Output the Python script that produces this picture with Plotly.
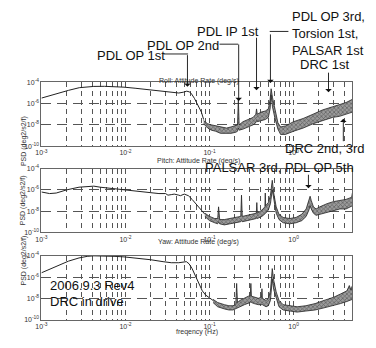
import numpy as np
import plotly.graph_objects as go

# ---------------- data (PSD given as log10 values) ----------------
roll_smooth_f = [0.001, 0.0013, 0.00163, 0.0021, 0.00282, 0.0042, 0.0056, 0.0075, 0.0096, 0.013,
                 0.0166, 0.022, 0.0286, 0.036, 0.043, 0.049, 0.0535, 0.058, 0.0612, 0.066, 0.0738, 0.08, 0.085]
roll_smooth_log = [-5.48, -5.2, -5.0, -4.75, -4.5, -4.38, -4.37, -4.4, -4.45, -4.55,
                   -4.65, -4.78, -4.9, -4.98, -5.0, -4.92, -4.83, -4.9, -5.1, -5.5, -6.2, -6.8, -7.5]
roll_band_f = [0.085, 0.095, 0.105, 0.118, 0.135, 0.159, 0.18, 0.205, 0.215, 0.22, 0.225, 0.25, 0.29,
               0.33, 0.355, 0.362, 0.37, 0.41, 0.46, 0.5, 0.525, 0.54, 0.56, 0.6, 0.65, 0.7, 0.8,
               1.0, 1.3, 1.7, 2.2, 2.9, 3.5, 4.2, 5.0]
roll_band_hi = [-7.6, -7.9, -8.0, -8.1, -8.2, -8.3, -8.2, -8.1, -8.0, -5.6, -8.0, -7.7, -7.5,
                -7.3, -7.0, -6.5, -7.0, -6.8, -6.7, -6.5, -5.6, -4.6, -5.4, -6.6, -7.8, -8.2, -8.1,
                -7.7, -7.4, -7.0, -6.6, -6.3, -6.1, -5.9, -5.6]
roll_band_lo = [-7.9, -8.3, -8.5, -8.6, -8.8, -8.8, -8.8, -8.7, -8.6, -8.3, -8.5, -8.4, -8.2,
                -8.0, -7.8, -7.6, -7.7, -7.6, -7.5, -7.3, -6.5, -5.2, -6.3, -7.4, -8.4, -8.9, -8.9,
                -8.6, -8.3, -7.9, -7.6, -7.3, -7.2, -7.0, -6.8]

pitch_smooth_f = [0.001, 0.00125, 0.0015, 0.002, 0.0028, 0.0035, 0.0042, 0.005, 0.0065, 0.0089, 0.012,
                  0.016, 0.02, 0.025, 0.03, 0.032, 0.035, 0.038, 0.043, 0.045, 0.05, 0.056, 0.062,
                  0.07, 0.078, 0.088]
pitch_smooth_log = [-6.2, -6.35, -6.3, -6.0, -5.75, -5.7, -5.65, -5.75, -5.85, -6.0, -6.1,
                    -6.2, -6.3, -6.35, -6.35, -6.5, -6.45, -6.4, -6.5, -6.55, -6.4, -6.55, -6.9,
                    -7.4, -7.9, -8.3]
pitch_band_f = [0.088, 0.1, 0.115, 0.125, 0.128, 0.132, 0.15, 0.17, 0.2, 0.235, 0.24, 0.245, 0.28,
                0.32, 0.36, 0.365, 0.37, 0.42, 0.455, 0.46, 0.465, 0.5, 0.53, 0.557, 0.58, 0.62,
                0.67, 0.75, 0.9, 1.07, 1.25, 1.41, 1.52, 1.57, 1.62, 1.72, 1.85, 2.05, 2.5, 3.0,
                3.55, 4.2, 4.9, 5.0]
pitch_band_hi = [-8.2, -8.5, -8.7, -8.7, -7.6, -8.8, -8.8, -8.7, -8.6, -8.5, -6.5, -8.5, -8.4,
                 -8.3, -8.2, -7.2, -8.2, -7.9, -7.6, -6.3, -7.5, -7.2, -6.5, -5.1, -6.3, -7.6,
                 -8.3, -8.6, -8.7, -8.6, -8.3, -7.8, -7.0, -6.6, -7.0, -7.6, -7.8, -7.6, -7.3, -7.1,
                 -7.0, -6.9, -6.7, -6.3]
pitch_band_lo = [-8.5, -8.9, -9.1, -9.2, -9.0, -9.2, -9.3, -9.2, -9.1, -9.0, -8.9, -9.0, -8.9,
                 -8.8, -8.7, -8.6, -8.7, -8.5, -8.3, -8.2, -8.2, -7.9, -7.3, -6.0, -7.0, -8.2,
                 -8.8, -9.1, -9.2, -9.1, -8.9, -8.5, -7.9, -7.5, -7.8, -8.2, -8.4, -8.3, -8.1, -7.9,
                 -7.8, -7.8, -7.6, -7.5]

yaw_smooth_f = [0.001, 0.0013, 0.0016, 0.0021, 0.0028, 0.0035, 0.0042, 0.0056, 0.0075, 0.0096, 0.013,
                0.02, 0.028, 0.035, 0.043, 0.049, 0.053, 0.057, 0.062, 0.068, 0.075, 0.082, 0.09,
                0.1, 0.11]
yaw_smooth_log = [-5.6, -5.2, -4.85, -4.5, -4.2, -4.05, -4.0, -4.0, -4.05, -4.1, -4.2,
                  -4.37, -4.55, -4.65, -4.65, -4.55, -4.55, -4.75, -5.2, -5.9, -6.7, -7.3, -7.7,
                  -8.0, -8.2]
yaw_band_f = [0.11, 0.125, 0.15, 0.17, 0.19, 0.205, 0.21, 0.215, 0.23, 0.26, 0.29, 0.305, 0.31, 0.315,
              0.34, 0.38, 0.415, 0.42, 0.425, 0.47, 0.5, 0.53, 0.557, 0.58, 0.62, 0.67, 0.75, 0.9,
              1.1, 1.4, 1.8, 2.3, 3.0, 3.6, 4.3, 4.6, 4.8, 5.0]
yaw_band_hi = [-8.1, -8.4, -8.6, -8.7, -8.7, -8.6, -6.6, -8.4, -8.2, -8.0, -7.8, -7.8, -6.6, -7.8,
               -7.9, -8.0, -7.9, -7.1, -8.0, -8.2, -8.0, -7.3, -5.2, -6.3, -7.4, -8.2, -8.6, -8.7,
               -8.8, -8.7, -8.5, -8.2, -7.9, -7.6, -7.3, -6.8, -7.2, -6.8]
yaw_band_lo = [-8.4, -8.8, -9.0, -9.1, -9.1, -9.0, -8.9, -8.9, -8.8, -8.6, -8.5, -8.4, -8.3, -8.4,
               -8.5, -8.6, -8.6, -8.6, -8.6, -8.8, -8.7, -8.2, -6.2, -7.2, -8.0, -8.8, -9.1, -9.2,
               -9.3, -9.2, -9.1, -8.9, -8.7, -8.5, -8.3, -8.2, -8.2, -8.1]

panel_titles = ["Roll: Attitude Rate (deg/s)", "Pitch: Attitude Rate (deg/s)", "Yaw: Attitude Rate (deg/s)"]
y_tick_vals = [1e-10, 1e-8, 1e-6, 1e-4]
y_tick_text = ["10<sup>-10</sup>", "10<sup>-8</sup>", "10<sup>-6</sup>", "10<sup>-4</sup>"]
x_decades = [1e-3, 1e-2, 1e-1, 1e0]
x_decade_text = ["10<sup>-3</sup>", "10<sup>-2</sup>", "10<sup>-1</sup>", "10<sup>0</sup>"]

# ---------------- layout helpers ----------------
W, H = 376, 348
def PX(x): return x / W
def PY(y): return 1 - y / H

X0, X1 = 36, 352
panel_px = [(80, 145), (168, 233), (257, 322)]
FONT = "Liberation Sans"

x_minor_vals = [d * m for d in x_decades for m in range(2, 10) if d * m <= 5.0]

fig = go.Figure()
data = [
    (roll_smooth_f, roll_smooth_log, roll_band_f, roll_band_hi, roll_band_lo),
    (pitch_smooth_f, pitch_smooth_log, pitch_band_f, pitch_band_hi, pitch_band_lo),
    (yaw_smooth_f, yaw_smooth_log, yaw_band_f, yaw_band_hi, yaw_band_lo),
]
for i, (sf, sl, bf, bh, bl) in enumerate(data):
    n = "" if i == 0 else str(i + 1)
    xa, ya = "x" + n, "y" + n
    fig.add_trace(go.Scatter(x=sf, y=10 ** np.array(sl), xaxis=xa, yaxis=ya, mode="lines",
                             line=dict(color="#222", width=1), showlegend=False, hoverinfo="skip"))
    fig.add_trace(go.Scatter(x=bf, y=10 ** np.array(bl), xaxis=xa, yaxis=ya, mode="lines",
                             line=dict(color="#222", width=0.8), showlegend=False, hoverinfo="skip"))
    fig.add_trace(go.Scatter(x=bf, y=10 ** np.array(bh), xaxis=xa, yaxis=ya, mode="lines",
                             fill="tonexty", fillcolor="rgba(120,120,120,0.9)",
                             fillpattern=dict(shape="x", fgcolor="#222", bgcolor="#9a9a9a", size=3, solidity=0.4),
                             line=dict(color="#222", width=0.8), showlegend=False, hoverinfo="skip"))
    top, bot = panel_px[i]
    fig.layout["xaxis" + n] = dict(
        type="log", range=[-3, np.log10(5.0)], domain=[PX(X0), PX(X1)], anchor=ya,
        tickvals=x_decades, ticktext=x_decade_text, ticks="", showgrid=True,
        gridcolor="#555", gridwidth=0.7, griddash="5px,4px",
        minor=dict(tickvals=x_minor_vals, showgrid=True, gridcolor="#555", gridwidth=0.7,
                   griddash="5px,4px", ticks=""),
        showline=True, mirror=True, linecolor="#666", linewidth=1, zeroline=False,
        tickfont=dict(size=7, family=FONT, color="#333"))
    fig.layout["yaxis" + n] = dict(
        type="log", range=[-10, -4], domain=[PY(bot), PY(top)], anchor=xa,
        tickvals=y_tick_vals, ticktext=y_tick_text, ticks="", showgrid=True,
        gridcolor="#555", gridwidth=0.8, griddash="10px,6px", showline=True, mirror=True,
        linecolor="#666", linewidth=1, zeroline=False,
        tickfont=dict(size=7, family=FONT, color="#333"))

annotations = []
shapes = []
# panel titles and axis titles
for i, t in enumerate(panel_titles):
    top, bot = panel_px[i]
    annotations.append(dict(text=t, x=PX(196), y=PY(top - 8), xref="paper", yref="paper",
                            showarrow=False, font=dict(size=7, family=FONT, color="#333")))
    annotations.append(dict(text="PSD (deg2/s2/f)", x=PX(12), y=PY((top + bot) / 2), xref="paper", yref="paper",
                            textangle=-90, showarrow=False, font=dict(size=7, family=FONT, color="#333")))
annotations.append(dict(text="freqency (Hz)", x=PX(194), y=PY(341), xref="paper", yref="paper",
                        showarrow=False, font=dict(size=7, family=FONT, color="#333")))

big = dict(size=13, family=FONT, color="#111")
def label(text, x, y):
    annotations.append(dict(text=text, x=PX(x), y=PY(y), xref="paper", yref="paper", xanchor="left",
                            yanchor="middle", showarrow=False, font=big))

label("PDL OP 1st", 90, 53)
label("PDL OP 2nd", 141, 42)
label("PDL IP 1st", 192, 28)
label("PDL OP 3rd,", 289, 13)
label("Torsion 1st,", 289, 30)
label("PALSAR 1st", 289, 47)
label("DRC 1st", 297, 62)
label("DRC 2nd, 3rd", 281, 147)
label("PALSAR 3rd, PDL OP 5th", 200, 167)
label("2006.9.3 Rev4", 43, 287)
label("DRC in drive", 43, 304)

# arrows: (panel, freq, log10 psd of tip, pixel offset of tail)
arrow_panel = [0, 0, 0, 0, 0, 0, 1]
arrow_freq = [0.0546, 0.222, 0.362, 0.53, 2.6, 3.9, 1.5]
arrow_tip_log = [-4.4, -5.75, -4.74, -4.05, -4.92, -7.42, -5.85]
arrow_tail_dy = [-33, -58, -54, -50, -21, 24, -15]
for p, f, lg, dy in zip(arrow_panel, arrow_freq, arrow_tip_log, arrow_tail_dy):
    n = "" if p == 0 else str(p + 1)
    annotations.append(dict(x=np.log10(f), y=lg, xref="x" + n, yref="y" + n, text="", showarrow=True,
                            ax=0, ay=dy, arrowhead=1, arrowsize=1.2, arrowwidth=0.9, arrowcolor="#111"))

# elbow connectors from labels to arrows
for x0, x1, y in [(160, 185, 51), (217, 236, 41), (268, 287, 28)]:
    shapes.append(dict(type="line", xref="paper", yref="paper", x0=PX(x0), x1=PX(x1), y0=PY(y), y1=PY(y),
                       line=dict(color="#111", width=0.9)))

fig.update_layout(width=W, height=H, margin=dict(l=0, r=0, t=0, b=0),
                  paper_bgcolor="white", plot_bgcolor="white",
                  annotations=annotations, shapes=shapes)
fig.write_html("out.html", config={"displayModeBar": False},
               post_script="document.body.style.margin='0';document.body.style.overflow='hidden';")
